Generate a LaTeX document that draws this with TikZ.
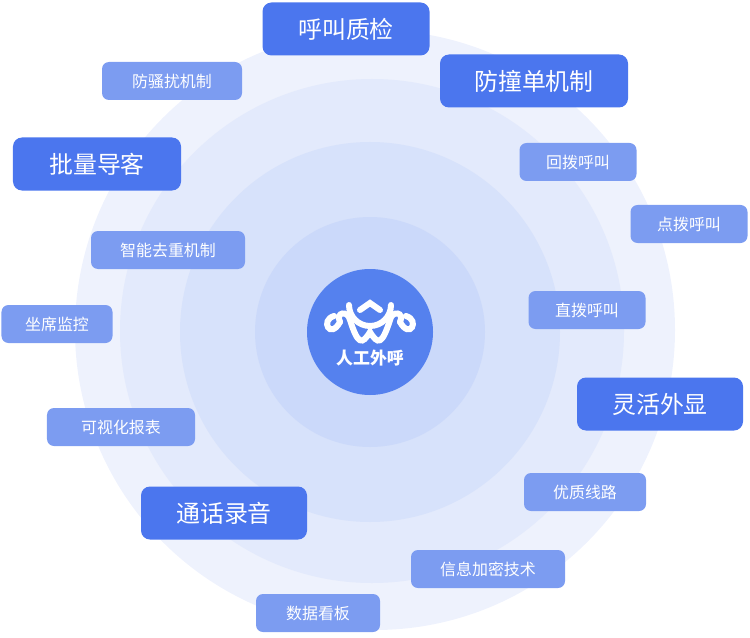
\documentclass[tikz,border=0pt]{standalone}
\usepackage{fontspec}
\setmainfont{Noto Sans CJK SC}
\definecolor{ringA}{HTML}{EEF2FD}
\definecolor{ringB}{HTML}{E3EAFC}
\definecolor{ringC}{HTML}{D7E2FB}
\definecolor{ringD}{HTML}{CBD9FA}
\definecolor{ringE}{HTML}{BFCFF8}
\definecolor{hubblue}{HTML}{5581EE}
\definecolor{bigblue}{HTML}{4B76EE}
\definecolor{smallblue}{HTML}{7C9CF1}
\begin{document}
\begin{tikzpicture}
[
 x=1bp, y=-1bp,
 BIG/.style={rectangle, rounded corners=9bp, fill=bigblue, text=white, font=\fontsize{24}{24}\selectfont, minimum height=53bp, inner xsep=0bp},
 SMALL/.style={rectangle, rounded corners=7bp, fill=smallblue, text=white, font=\fontsize{16}{16}\selectfont, minimum height=38bp, inner xsep=0bp},
 LOGO/.style={white, line width=6bp, line cap=round},
 ]
%
\useasboundingbox (0,0) rectangle (750,638);
\fill [ringA] (375,330) circle (300);
\fill [ringB] (372,331) circle (252);
\fill [ringC] (370,332) circle (190);
\fill [ringD] (370,332) circle (115);
\node [circle, fill=hubblue, minimum size=126bp] (hub) at (370,332) {};
%
\draw [LOGO] (349,305) arc (180:0:21);
\draw [LOGO] (360,310) -- (370,303) -- (380,310);
\draw [LOGO] (340,322) .. controls (335,312) and (348,310) .. (350,320)
  .. controls (358,345) and (362,345) .. (370,332)
  .. controls (378,345) and (382,345) .. (390,320)
  .. controls (392,310) and (405,312) .. (400,322);
\draw [LOGO] (340,322) .. controls (330,340) and (320,320) .. (334,316);
\draw [LOGO] (400,322) .. controls (410,340) and (420,320) .. (406,316);
\node [text=white, font=\fontsize{17}{17}\selectfont\bfseries] (hubtext) at (370,358) {人工外呼};
%
\node [BIG, minimum width=167bp] (zj) at (346,29) {呼叫质检};
\node [BIG, minimum width=188bp] (fz) at (534,81) {防撞单机制};
\node [BIG, minimum width=168bp] (pl) at (97,164) {批量导客};
\node [BIG, minimum width=166bp] (lh) at (660,404) {灵活外显};
\node [BIG, minimum width=166bp] (th) at (224,513) {通话录音};
%
\node [SMALL, minimum width=140bp] (fs) at (172,81) {防骚扰机制};
\node [SMALL, minimum width=117bp] (hb) at (578,162) {回拨呼叫};
\node [SMALL, minimum width=117bp] (db) at (689,224) {点拨呼叫};
\node [SMALL, minimum width=154bp] (zn) at (168,250) {智能去重机制};
\node [SMALL, minimum width=111bp] (zx) at (57,324) {坐席监控};
\node [SMALL, minimum width=117bp] (zb) at (587,310) {直拨呼叫};
\node [SMALL, minimum width=148bp] (ks) at (121,427) {可视化报表};
\node [SMALL, minimum width=122bp] (yz) at (585,492) {优质线路};
\node [SMALL, minimum width=154bp] (xx) at (488,569) {信息加密技术};
\node [SMALL, minimum width=124bp] (sj) at (318,613) {数据看板};
%
\end{tikzpicture}
\end{document}
